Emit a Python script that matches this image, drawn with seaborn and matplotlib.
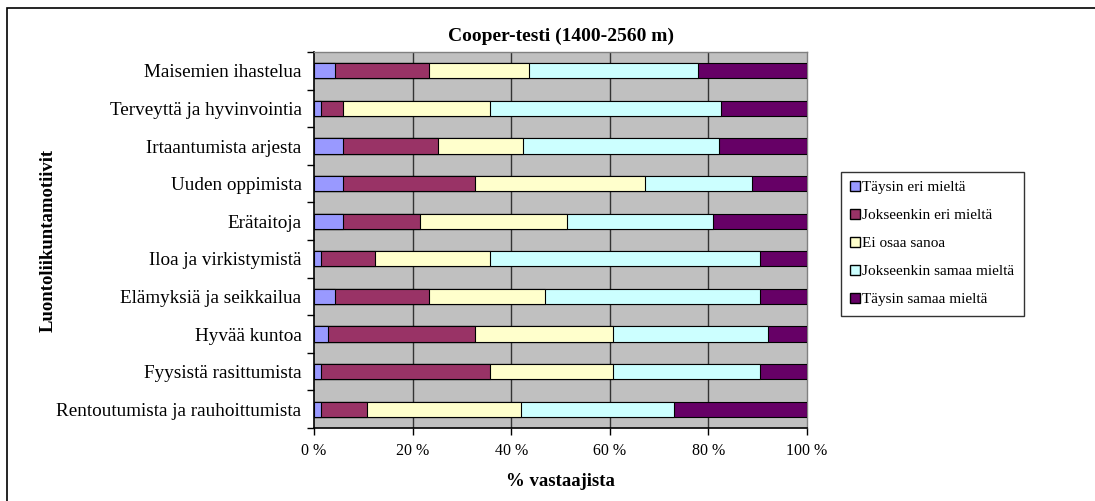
import matplotlib
matplotlib.use("Agg")
import matplotlib.pyplot as plt
import matplotlib.patches as mpatches
import numpy as np
import pandas as pd
import seaborn as sns

# Motives, listed top to bottom
categories = [
    "Maisemien ihastelua",
    "Terveyttä ja hyvinvointia",
    "Irtaantumista arjesta",
    "Uuden oppimista",
    "Erätaitoja",
    "Iloa ja virkistymistä",
    "Elämyksiä ja seikkailua",
    "Hyvää kuntoa",
    "Fyysistä rasittumista",
    "Rentoutumista ja rauhoittumista",
]

# Share of respondents (%) per answer option
taysin_eri = [4.3, 1.4, 5.9, 5.9, 5.9, 1.4, 4.3, 2.8, 1.4, 1.4]
jokseenkin_eri = [19.0, 4.5, 19.3, 26.7, 15.6, 10.9, 19.0, 29.8, 34.3, 9.3]
ei_osaa = [20.3, 29.8, 17.2, 34.5, 29.8, 23.4, 23.5, 28.1, 25.0, 31.3]
jokseenkin_samaa = [34.2, 46.8, 39.8, 21.8, 29.7, 54.8, 43.7, 31.4, 29.8, 31.1]
taysin_samaa = [22.2, 17.5, 17.8, 11.1, 19.0, 9.5, 9.5, 7.9, 9.5, 26.9]

series_names = [
    "Täysin eri mieltä",
    "Jokseenkin eri mieltä",
    "Ei osaa sanoa",
    "Jokseenkin samaa mieltä",
    "Täysin samaa mieltä",
]
series_values = [taysin_eri, jokseenkin_eri, ei_osaa, jokseenkin_samaa, taysin_samaa]
colors = ["#9999FF", "#993366", "#FFFFCC", "#CCFFFF", "#660066"]

x_ticks = [0, 20, 40, 60, 80, 100]
x_tick_labels = ["0 %", "20 %", "40 %", "60 %", "80 %", "100 %"]

sns.set_theme(style="white")
plt.rcParams["font.family"] = ["Liberation Serif", "DejaVu Serif"]
for key in ["text.color", "axes.labelcolor", "xtick.color", "ytick.color"]:
    plt.rcParams[key] = "black"

fig = plt.figure(figsize=(10.95, 5.01), dpi=100)
ax = fig.add_axes([0.2868, 0.1457, 0.4502, 0.7505])
ax.set_facecolor("#C0C0C0")

# Stacked bars: draw cumulative totals from the widest down so each segment shows
cum = np.cumsum(np.array(series_values), axis=0)
for i in range(len(series_names) - 1, -1, -1):
    df = pd.DataFrame({"motiivi": categories, "arvo": cum[i]})
    sns.barplot(data=df, x="arvo", y="motiivi", orient="h", color=colors[i],
                width=0.4, edgecolor="black", linewidth=0.8, saturation=1,
                ax=ax, zorder=3)

ax.set_xlim(0, 100)
ax.set_ylim(len(categories) - 0.5, -0.5)

# Vertical gridlines
for xv in x_ticks[1:-1]:
    ax.axvline(xv, color="#333333", lw=1.0, zorder=1)

ax.set_xticks(x_ticks)
ax.set_xticklabels(x_tick_labels, fontsize=11.5)
ax.set_yticks(range(len(categories)))
ax.set_yticklabels(categories, fontsize=13.8)
ax.tick_params(axis="y", length=0, pad=9)
ax.tick_params(axis="x", length=5, width=1, direction="out", color="black", pad=6,
               bottom=True)

# Category separator ticks on the left axis
sep = np.arange(-0.5, len(categories) + 0.5, 1.0)
ax.set_yticks(sep, minor=True)
ax.tick_params(axis="y", which="minor", length=5, width=1, direction="out",
               color="black", left=True)

for side in ["left", "bottom"]:
    ax.spines[side].set_color("black")
    ax.spines[side].set_linewidth(1.2)
for side in ["top", "right"]:
    ax.spines[side].set_color("#808080")
    ax.spines[side].set_linewidth(1.0)

ax.set_xlabel("% vastaajista", fontsize=13.5, fontweight="bold", labelpad=10)
ax.set_ylabel("Luontoliikuntamotiivit", fontsize=13.5, fontweight="bold", labelpad=0)
ax.yaxis.set_label_coords(-0.522, 0.5)
ax.set_title("Cooper-testi (1400-2560 m)", fontsize=14, fontweight="bold", pad=8)

handles = [mpatches.Patch(facecolor=c, edgecolor="black", linewidth=1.0, label=n)
           for c, n in zip(colors, series_names)]
leg = fig.legend(handles=handles, loc="upper left", bbox_to_anchor=(0.768, 0.657),
                 bbox_transform=fig.transFigure, fontsize=11, frameon=True,
                 fancybox=False, edgecolor="black", handlelength=0.65,
                 handleheight=0.65, handletextpad=0.15, labelspacing=0.95,
                 borderpad=0.6, borderaxespad=0)
leg.get_frame().set_linewidth(1.0)

# Chart area border
fig.add_artist(mpatches.Rectangle((7 / 1095, -0.05), 1.1, 1 - 8 / 501 + 0.05,
                                  transform=fig.transFigure, fill=False,
                                  edgecolor="black", linewidth=1.2))

fig.savefig("out.png", dpi=100)
